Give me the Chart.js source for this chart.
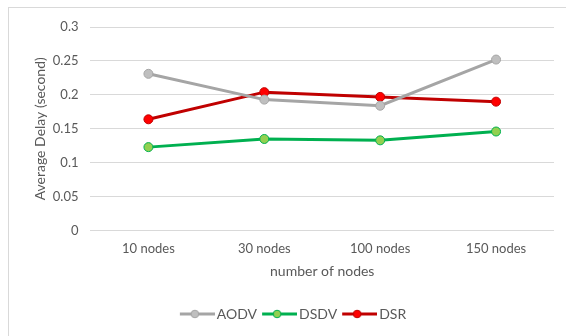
<!DOCTYPE html>
<html>
<head>
<meta charset="utf-8">
<script src="https://cdn.jsdelivr.net/npm/chart.js@4/dist/chart.umd.min.js"></script>
<style>
    body { margin: 0; background: #fff; }
    #frame {
        position: absolute; left: 8px; top: 7px; width: 558px; height: 329px;
        border-left: 1px solid #d9d9d9; border-top: 1px solid #d9d9d9;
    }
    #wrap { position: absolute; left: 0; top: 0; width: 566px; height: 336px; }
</style>
</head>
<body>
<div id="frame"></div>
<div id="wrap"><canvas id="delayChart" width="566" height="336"></canvas></div>
<script>
const categories = ["10 nodes", "30 nodes", "100 nodes", "150 nodes"];
const aodv = [0.231, 0.193, 0.184, 0.252];
const dsdv = [0.123, 0.135, 0.133, 0.146];
const dsr = [0.164, 0.204, 0.197, 0.190];

const FONT = "Lato, 'Open Sans', sans-serif";
const TEXT = "#595959";

// line+dot icon for the legend, like Excel draws it.
// 40px wide but drawn into a 30px box, so the line runs up to the text
function legendIcon(line, fill) {
    const c = document.createElement("canvas");
    c.width = 40; c.height = 10;
    const ctx = c.getContext("2d");
    ctx.strokeStyle = line;
    ctx.lineWidth = 3;
    ctx.beginPath();
    ctx.moveTo(5, 5);
    ctx.lineTo(40, 5);
    ctx.stroke();
    ctx.fillStyle = fill;
    ctx.lineWidth = 1;
    ctx.beginPath();
    ctx.arc(20, 5, 3.8, 0, Math.PI * 2);
    ctx.fill();
    ctx.stroke();
    return c;
}

function series(label, data, line, fill) {
    return {
        label,
        data,
        borderColor: line,
        backgroundColor: fill,
        borderWidth: 3,
        pointStyle: "circle",
        pointRadius: 4.5,
        pointHoverRadius: 4.5,
        pointBorderWidth: 1,
        pointBackgroundColor: fill,
        pointBorderColor: line,
        fill: false,
        tension: 0,
    };
}

document.addEventListener("DOMContentLoaded", () => {
    const datasets = [
        series("AODV", aodv, "#a5a5a5", "#bfbfbf"),
        series("DSDV", dsdv, "#00b050", "#92d050"),
        series("DSR", dsr, "#c00000", "#ff0000"),
    ];

    new Chart(document.getElementById("delayChart"), {
        type: "line",
        data: { labels: categories, datasets },
        options: {
            responsive: false,
            animation: false,
            devicePixelRatio: 1,
            layout: { padding: { left: 32, right: 12, top: 27, bottom: 5 } },
            plugins: {
                legend: {
                    position: "bottom",
                    labels: {
                        usePointStyle: true,
                        pointStyleWidth: 30,
                        font: { family: FONT, size: 14 },
                        color: TEXT,
                        padding: 5,
                        generateLabels(chart) {
                            return chart.data.datasets.map((ds, i) => ({
                                text: ds.label,
                                pointStyle: legendIcon(ds.borderColor, ds.backgroundColor),
                                fillStyle: ds.backgroundColor,
                                strokeStyle: ds.borderColor,
                                lineWidth: 0,
                                datasetIndex: i,
                                fontColor: TEXT,
                            }));
                        },
                    },
                },
                tooltip: { enabled: false },
            },
            scales: {
                x: {
                    offset: true,
                    grid: { display: false, drawTicks: false },
                    border: { display: false },
                    ticks: { color: TEXT, font: { family: FONT, size: 13 }, padding: 10 },
                    title: {
                        display: true,
                        text: "number of nodes",
                        color: TEXT,
                        font: { family: FONT, size: 14 },
                        padding: { top: -3, bottom: 22 },
                    },
                },
                y: {
                    min: 0,
                    max: 0.3,
                    grid: { color: "#d9d9d9", drawTicks: false, lineWidth: 1 },
                    border: { display: false },
                    ticks: {
                        stepSize: 0.05,
                        color: TEXT,
                        font: { family: FONT, size: 13 },
                        padding: 12,
                        callback: (v) => String(Math.round(v * 100) / 100),
                    },
                    title: {
                        display: true,
                        text: "Average Delay (second)",
                        color: TEXT,
                        font: { family: FONT, size: 14 },
                        padding: { top: 0, bottom: -8 },
                    },
                },
            },
        },
    });
});
</script>
</body>
</html>
